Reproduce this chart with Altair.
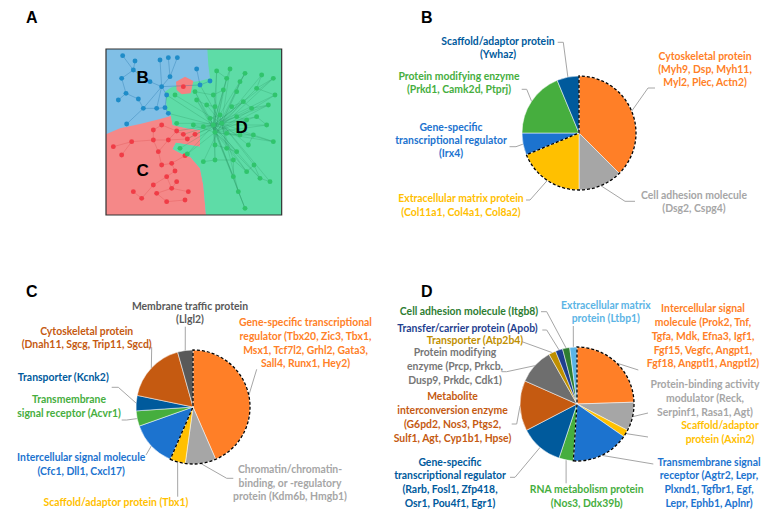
import math
import altair as alt
import pandas as pd

# ======================= DATA =======================
# ---- Panel B ----
B_categories = ["Cytoskeletal protein", "Cell adhesion molecule", "Extracellular matrix protein",
                "Gene-specific transcriptional regulator", "Protein modifying enzyme", "Scaffold/adaptor protein"]
B_values = [6, 2, 3, 1, 3, 1]
B_labels = [
    ["Cytoskeletal protein", "(Myh9, Dsp, Myh11,", "Myl2, Plec, Actn2)"],
    ["Cell adhesion molecule", "(Dsg2, Cspg4)"],
    ["Extracellular matrix protein", "(Col11a1, Col4a1, Col8a2)"],
    ["Gene-specific", "transcriptional regulator", "(Irx4)"],
    ["Protein modifying enzyme", "(Prkd1, Camk2d, Ptprj)"],
    ["Scaffold/adaptor protein", "(Ywhaz)"],
]

# ---- Panel C ----
C_categories = ["Gene-specific transcriptional regulator", "Chromatin/chromatin-binding, or -regulatory protein",
                "Scaffold/adaptor protein", "Intercellular signal molecule", "Transmembrane signal receptor",
                "Transporter", "Cytoskeletal protein", "Membrane traffic protein"]
C_values = [10, 2, 1, 3, 1, 1, 4, 1]
C_labels = [
    ["Gene-specific transcriptional", "regulator (Tbx20, Zic3, Tbx1,", "Msx1, Tcf7l2, Grhl2, Gata3,", "Sall4, Runx1, Hey2)"],
    ["Chromatin/chromatin-", "binding, or -regulatory", "protein (Kdm6b, Hmgb1)"],
    ["Scaffold/adaptor protein (Tbx1)"],
    ["Intercellular signal molecule", "(Cfc1, Dll1, Cxcl17)"],
    ["Transmembrane", "signal receptor (Acvr1)"],
    ["Transporter (Kcnk2)"],
    ["Cytoskeletal protein", "(Dnah11, Sgcg, Trip11, Sgcd)"],
    ["Membrane traffic protein", "(Llgl2)"],
]

# ---- Panel D ----
D_categories = ["Intercellular signal molecule", "Protein-binding activity modulator", "Scaffold/adaptor protein",
                "Transmembrane signal receptor", "RNA metabolism protein", "Gene-specific transcriptional regulator",
                "Metabolite interconversion enzyme", "Protein modifying enzyme", "Transporter",
                "Transfer/carrier protein", "Cell adhesion molecule", "Extracellular matrix protein"]
D_values = [12, 4, 1, 8, 2, 6, 7, 5, 1, 1, 1, 1]
D_labels = [
    ["Intercellular signal", "molecule (Prok2, Tnf,", "Tgfa, Mdk, Efna3, Igf1,", "Fgf15, Vegfc, Angpt1,", "Fgf18, Angptl1, Angptl2)"],
    ["Protein-binding activity", "modulator (Reck,", "Serpinf1, Rasa1, Agt)"],
    ["Scaffold/adaptor", "protein (Axin2)"],
    ["Transmembrane signal", "receptor (Agtr2, Lepr,", "Plxnd1, Tgfbr1, Egf,", "Lepr, Ephb1, Aplnr)"],
    ["RNA metabolism protein", "(Nos3, Ddx39b)"],
    ["Gene-specific", "transcriptional regulator", "(Rarb, Fosl1, Zfp418,", "Osr1, Pou4f1, Egr1)"],
    ["Metabolite", "interconversion enzyme", "(G6pd2, Nos3, Ptgs2,", "Sulf1, Agt, Cyp1b1, Hpse)"],
    ["Protein modifying", "enzyme (Prcp, Prkcb,", "Dusp9, Prkdc, Cdk1)"],
    ["Transporter (Atp2b4)"],
    ["Transfer/carrier protein (Apob)"],
    ["Cell adhesion molecule (Itgb8)"],
    ["Extracellular matrix", "protein (Ltbp1)"],
]

# ---- Panel A network (node positions in the network image) ----
A_blue_nodes = [(68, 32), (105, 48), (180, 45), (205, 38), (232, 38), (100, 75), (210, 95), (65, 100),
                (185, 125), (290, 72), (330, 108), (300, 120), (78, 145), (55, 165), (115, 162), (200, 150),
                (130, 190), (170, 190), (195, 188), (205, 205), (80, 237), (150, 110)]
A_blue_edges = [(0, 5), (1, 5), (5, 7), (5, 21), (21, 8), (2, 8), (3, 6), (6, 8), (8, 15), (8, 17), (8, 16),
                (16, 14), (14, 12), (12, 13), (16, 17), (17, 18), (18, 19), (15, 18), (8, 11), (9, 11),
                (10, 11), (16, 20), (7, 12), (4, 6)]
A_red_nodes = [(250, 125), (185, 240), (160, 255), (230, 258), (250, 268), (95, 290), (160, 285), (205, 285),
               (262, 282), (285, 268), (40, 305), (175, 320), (255, 332), (215, 355), (225, 378), (185, 360),
               (65, 330), (200, 395), (160, 420), (215, 430), (170, 445), (265, 440), (100, 440), (125, 460),
               (200, 470), (255, 465), (230, 410)]
A_red_edges = [(1, 2), (1, 3), (2, 6), (3, 4), (4, 8), (8, 9), (6, 7), (7, 8), (5, 6), (5, 10), (5, 16),
               (6, 11), (11, 15), (15, 13), (13, 12), (13, 14), (14, 17), (17, 18), (17, 19), (19, 21),
               (19, 20), (20, 24), (18, 23), (22, 23), (24, 25), (26, 19), (3, 7), (11, 7)]
A_green_nodes = [(350, 78), (390, 72), (435, 85), (485, 90), (380, 100), (420, 110), (520, 100), (470, 130),
                 (525, 150), (340, 150), (370, 135), (410, 140), (285, 140), (225, 150), (290, 165),
                 (320, 180), (345, 185), (395, 185), (430, 170), (455, 190), (505, 180), (360, 210),
                 (330, 220), (365, 235), (340, 240), (410, 215), (440, 225), (470, 215), (500, 240),
                 (230, 235), (280, 240), (310, 245), (345, 262), (380, 265), (420, 270), (460, 270),
                 (520, 290), (445, 300), (345, 300), (380, 310), (410, 320), (240, 310), (262, 327),
                 (310, 350), (345, 345), (400, 345), (440, 380), (462, 360), (480, 400), (510, 410),
                 (400, 395), (415, 440), (435, 490)]
A_green_hubs = [24, 23, 32]
A_green_edges = [(0, 4), (4, 10), (1, 4), (2, 5), (5, 11), (3, 7), (7, 8), (6, 7), (9, 10), (12, 9),
                 (14, 15), (15, 16), (17, 18), (18, 19), (19, 20), (21, 22), (25, 26), (26, 27), (27, 28),
                 (33, 34), (34, 35), (35, 36), (37, 35), (38, 39), (39, 40), (43, 44), (44, 45), (45, 46),
                 (46, 47), (47, 48), (48, 49), (45, 50), (50, 51), (51, 52)]
A_cross_edges = [(4, 24), (8, 24), (9, 23), (3, 24)]          # red node -> green hub
A_blue_cross = [(15, 24), (19, 24), (11, 23)]                 # blue node -> green hub

# Region outlines of the network image (image coordinates)
A_box = [(18, 12), (545, 12), (545, 510), (18, 510)]
A_red_region = [(18, 268), (60, 250), (120, 237), (180, 222), (213, 213), (218, 240), (260, 250), (300, 255),
                (300, 305), (228, 293), (218, 312), (242, 325), (272, 337), (300, 370), (310, 420), (318, 510),
                (18, 510)]
A_green_region = [(322, 12), (545, 12), (545, 510), (318, 510), (310, 420), (300, 370), (272, 337), (242, 325),
                  (218, 312), (228, 293), (300, 305), (300, 255), (260, 250), (218, 240), (213, 213), (200, 195),
                  (198, 160), (195, 140), (212, 128), (240, 118), (280, 110), (300, 108), (330, 100), (325, 60)]
A_red_patch = [(228, 110), (255, 95), (280, 108), (272, 145), (245, 148), (230, 135)]
A_region_letters = [("B", 128, 100), ("C", 128, 378), ("D", 425, 248)]

# ======================= STYLE / LAYOUT =======================
ORANGE, GRAY, YELLOW, BLUE, GREEN, DBLUE = "#FF7F27", "#A6A6A6", "#FFC000", "#1C73CF", "#46AE3E", "#005A9C"
DORANGE, DGRAY, MGRAY, GOLD, NAVY, DGREEN, LBLUE = "#C55A11", "#595959", "#767676", "#BF8F00", "#1F3F8F", "#2E7D32", "#5BB4E5"

B_fill = [ORANGE, GRAY, YELLOW, BLUE, GREEN, DBLUE]
B_text = [ORANGE, GRAY, YELLOW, BLUE, GREEN, DBLUE]
C_fill = [ORANGE, GRAY, YELLOW, BLUE, GREEN, DBLUE, DORANGE, DGRAY]
C_text = [ORANGE, GRAY, YELLOW, BLUE, GREEN, DBLUE, DORANGE, DGRAY]
D_fill = [ORANGE, GRAY, YELLOW, BLUE, GREEN, DBLUE, DORANGE, "#6E6E6E", GOLD, NAVY, DGREEN, LBLUE]
D_text = [ORANGE, GRAY, YELLOW, BLUE, GREEN, DBLUE, DORANGE, MGRAY, GOLD, NAVY, DGREEN, LBLUE]

PIE_R = 57
B_center, C_center, D_center = (579, 133), (193, 407), (577, 404)
B_lpos = [(705, 56.7), (694, 196), (461, 199.3), (451, 127.7), (459, 76.7), (498, 41.7)]
B_lead = [[(648, 88), (655, 88)], [(625, 201.3), (635, 201.3)], [(530, 200), (526, 200)],
          [(516, 146.7), (509.5, 146.7)], [(526.7, 89.3), (521.7, 89.3)], [(563.3, 42.3), (557.7, 42.3)]]
C_lpos = [(305.5, 323.3), (290, 470), (116, 503.3), (81.2, 458.3), (69, 400), (63.3, 378.3), (86.7, 331.7),
          (190, 306.7)]
C_lead = [[(256.7, 369.3)], [(226.7, 478.3), (233.3, 478.3)], [(177.7, 496.7)], [(146, 455)],
          [(126.7, 420), (121.7, 420)], [(118.3, 387.3), (111.7, 387.3)], [(151.7, 347.3), (144, 347.3)],
          [(185.3, 326.7)]]
D_lpos = [(703, 309.3), (705, 385), (720, 426), (709, 462.7), (586.7, 490), (450, 462.7), (452.5, 397.3),
          (455, 353.3), (475, 341), (467.5, 329), (469, 311.7), (605.8, 305.7)]
D_lead = [[(638.3, 370)], [(648, 413)], [(648, 437)], [(653.3, 464)], [(566.1, 483.3)],
          [(515, 477.3), (510, 477.3)], [(516.7, 424), (511.7, 424)], [(506.7, 371.7), (501.7, 371.7)],
          [(522, 341.7)], [(546.7, 330), (542.3, 330)], [(546.7, 311.7), (541, 311.7)], [(573.3, 326)]]
DASHED_N = {"B": 3, "C": 3, "D": 4}
LINE_H = {"B": 13.3, "C": 13.7, "D": 13.75}

LABEL_FONT, LABEL_SIZE = "Lato", 10.4
W, H = 753, 504
XS = alt.Scale(domain=[8, 8 + W], nice=False, zero=False)
YS = alt.Scale(domain=[8, 8 + H], nice=False, zero=False, reverse=True)


def img_to_page(p):
    return (p[0] / 3 + 100, p[1] / 3 + 45)


# ======================= BUILD TABLES =======================
def build(panel, cats, vals, fills, tcols, labels, center, lpos, leads):
    total = sum(vals)
    pie, lines, texts = [], [], []
    cum = 0
    for i, (c, v) in enumerate(zip(cats, vals)):
        mid = (cum + v / 2) / total * 2 * math.pi
        cum += v
        ex = center[0] + PIE_R * math.sin(mid)
        ey = center[1] - PIE_R * math.cos(mid)
        for j, (px, py) in enumerate([(ex, ey)] + leads[i]):
            lines.append(dict(lid=f"{panel}{i}", seq=j, x=px, y=py))
        for k, t in enumerate(labels[i]):
            texts.append(dict(x=lpos[i][0], y=lpos[i][1] + k * LINE_H[panel], text=t, color=tcols[i]))
        pie.append(dict(idx=i, cat=c, value=v, fill=fills[i], cx=center[0], cy=center[1]))
    n = DASHED_N[panel]
    dash = [dict(idx=0, value=sum(vals[:n]), so=1, cx=center[0], cy=center[1]),
            dict(idx=1, value=sum(vals[n:]), so=0, cx=center[0], cy=center[1])]
    return pd.DataFrame(pie), pd.DataFrame(dash), pd.DataFrame(lines), pd.DataFrame(texts)


def pie_layers(panel, *args):
    pie, dash, lines, texts = build(panel, *args)
    arcs = alt.Chart(pie).mark_arc(outerRadius=PIE_R, stroke="white", strokeWidth=0.5).encode(
        x=alt.X("cx:Q", scale=XS, axis=None), y=alt.Y("cy:Q", scale=YS, axis=None),
        theta=alt.Theta("value:Q", stack=True), order=alt.Order("idx:Q"),
        color=alt.Color("fill:N", scale=None))
    dashed = alt.Chart(dash).mark_arc(outerRadius=PIE_R, fillOpacity=0, fill="white", stroke="black",
                                      strokeWidth=1.3, strokeDash=[3, 2]).encode(
        x=alt.X("cx:Q", scale=XS, axis=None), y=alt.Y("cy:Q", scale=YS, axis=None),
        theta=alt.Theta("value:Q", stack=True), order=alt.Order("idx:Q"),
        strokeOpacity=alt.StrokeOpacity("so:Q", scale=None))
    leaders = alt.Chart(lines).mark_line(color="#A6A6A6", strokeWidth=1).encode(
        x=alt.X("x:Q", scale=XS, axis=None), y=alt.Y("y:Q", scale=YS, axis=None),
        detail="lid:N", order="seq:Q")
    labs = alt.Chart(texts).mark_text(font=LABEL_FONT, fontSize=LABEL_SIZE, fontWeight="bold",
                                      align="center", baseline="middle").encode(
        x=alt.X("x:Q", scale=XS, axis=None), y=alt.Y("y:Q", scale=YS, axis=None),
        text="text:N", color=alt.Color("color:N", scale=None))
    return [leaders, arcs, dashed, labs]


# ---- panel A ----
def feature(pts, fill):
    ring = [[p[0] - 8, p[1] - 8] for p in map(img_to_page, pts)]
    ring.append(ring[0])
    return {"type": "Feature", "properties": {"fill": fill}, "geometry": {"type": "Polygon", "coordinates": [ring]}}


regions = [feature(A_box, "#80BFE6"), feature(A_red_region, "#F58888"),
           feature(A_green_region, "#5EDCA7"), feature(A_red_patch, "#F58282")]
proj = alt.Projection(type="identity", scale=1, translate=[0, 0])
region_layer = alt.Chart(alt.Data(values=regions)).mark_geoshape(strokeWidth=0).encode(
    color=alt.Color("properties.fill:N", scale=None)).project(**proj.to_dict())
border_layer = alt.Chart(alt.Data(values=[feature(A_box, "#ffffff")])).mark_geoshape(
    fillOpacity=0, stroke="#333333", strokeWidth=1.2).project(**proj.to_dict())

node_rows, edge_rows = [], []
for group, nodes, col in [("b", A_blue_nodes, "#1E8CC8"), ("r", A_red_nodes, "#F03C46"),
                          ("g", A_green_nodes, "#30C46C")]:
    for p in nodes:
        x, y = img_to_page(p)
        node_rows.append(dict(x=x, y=y, color=col))


def add_edge(p, q, col, op):
    (x, y), (x2, y2) = img_to_page(p), img_to_page(q)
    edge_rows.append(dict(x=x, y=y, x2=x2, y2=y2, color=col, op=op))


for a, b in A_blue_edges:
    add_edge(A_blue_nodes[a], A_blue_nodes[b], "#1D6FA6", 0.6)
for a, b in A_red_edges:
    add_edge(A_red_nodes[a], A_red_nodes[b], "#D94A4A", 0.55)
for k, h in enumerate(A_green_hubs):
    for i, p in enumerate(A_green_nodes):
        if i != h and (i + k) % 2 == 0:
            add_edge(A_green_nodes[h], p, "#1F8A58", 0.4)
for a, b in A_green_edges:
    add_edge(A_green_nodes[a], A_green_nodes[b], "#1F8A58", 0.45)
for a, h in A_cross_edges:
    add_edge(A_red_nodes[a], A_green_nodes[h], "#1F8A58", 0.45)
for a, h in A_blue_cross:
    add_edge(A_blue_nodes[a], A_green_nodes[h], "#1F8A58", 0.45)

edges = alt.Chart(pd.DataFrame(edge_rows)).mark_rule(strokeWidth=0.55).encode(
    x=alt.X("x:Q", scale=XS, axis=None), y=alt.Y("y:Q", scale=YS, axis=None), x2="x2:Q", y2="y2:Q",
    color=alt.Color("color:N", scale=None), opacity=alt.Opacity("op:Q", scale=None))
nodes = alt.Chart(pd.DataFrame(node_rows)).mark_point(filled=True, shape="circle", size=24, opacity=1).encode(
    x=alt.X("x:Q", scale=XS, axis=None), y=alt.Y("y:Q", scale=YS, axis=None),
    color=alt.Color("color:N", scale=None))
reg_letters = pd.DataFrame([dict(t=t, x=img_to_page((x, y))[0], y=img_to_page((x, y))[1])
                            for t, x, y in A_region_letters])
reg_text = alt.Chart(reg_letters).mark_text(font="Liberation Sans", fontSize=17, fontWeight="bold",
                                            color="black", baseline="middle").encode(
    x=alt.X("x:Q", scale=XS, axis=None), y=alt.Y("y:Q", scale=YS, axis=None), text="t:N")

panel_letters = pd.DataFrame(dict(t=["A", "B", "C", "D"], x=[31.7, 426.7, 31.7, 426.7],
                                  y=[18.3, 18, 291.7, 291.7]))
letters = alt.Chart(panel_letters).mark_text(font="Liberation Sans", fontSize=16, fontWeight="bold",
                                             color="black", baseline="middle").encode(
    x=alt.X("x:Q", scale=XS, axis=None), y=alt.Y("y:Q", scale=YS, axis=None), text="t:N")

layers = [region_layer, edges, nodes, border_layer, reg_text, letters]
layers += pie_layers("B", B_categories, B_values, B_fill, B_text, B_labels, B_center, B_lpos, B_lead)
layers += pie_layers("C", C_categories, C_values, C_fill, C_text, C_labels, C_center, C_lpos, C_lead)
layers += pie_layers("D", D_categories, D_values, D_fill, D_text, D_labels, D_center, D_lpos, D_lead)

chart = alt.layer(*layers).resolve_scale(theta="independent").properties(
    width=W, height=H, padding=0, autosize=alt.AutoSizeParams(type="none"), background="white"
).configure_view(stroke=None)

chart.save("out.html", embed_options={"renderer": "svg", "actions": False})
